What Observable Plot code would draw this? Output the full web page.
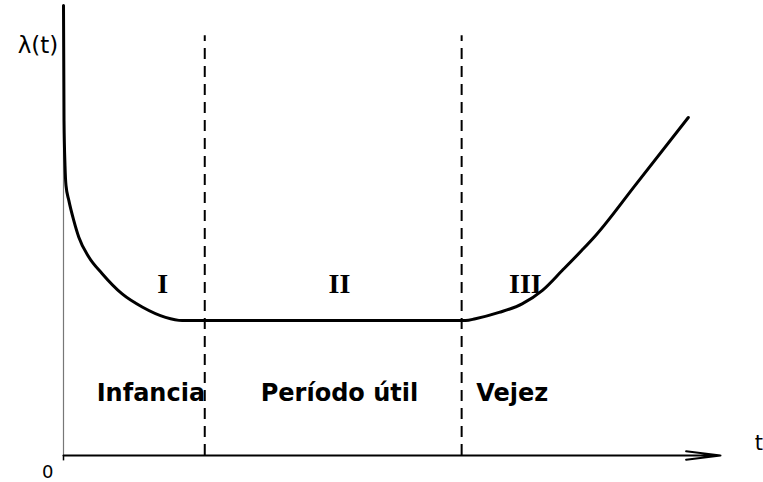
<!DOCTYPE html>
<html>
<head>
<meta charset="utf-8">
<script src="https://cdn.jsdelivr.net/npm/d3@7"></script>
<script src="https://cdn.jsdelivr.net/npm/@observablehq/plot@0.6"></script>
<style>
  html, body { margin: 0; padding: 0; background: #fff; }
  #chart svg { display: block; }
</style>
</head>
<body>
<div id="chart"></div>
<script>
// Bathtub curve λ(t) (arbitrary units)
const curveT = [0, 0.008, 0.023, 0.038, 0.081, 0.157, 0.233, 0.385, 0.589, 0.893, 1.198, 1.553, 1.807, 2.08, 6.12, 6.27, 6.63, 6.98, 7.29, 7.59, 7.89, 8.10, 8.71, 9.51];
const curveL = [10, 7.44, 6.44, 6.0, 5.67, 5.22, 4.85, 4.41, 4.04, 3.59, 3.30, 3.07, 3.0, 3.0, 3.0, 3.04, 3.18, 3.37, 3.67, 4.11, 4.56, 4.89, 6.02, 7.51];

// Phase boundaries (dashed lines)
const boundaryT = [2.15, 6.06];
const boundaryTop = 9.33;

// Roman numerals for each phase
const phaseNumerals = ["I", "II", "III"];
const phaseNumeralT = [1.51, 4.2, 7.03];
const phaseNumeralL = 3.82;

// Phase names
const phaseNames = ["Infancia", "Período útil", "Vejez"];
const phaseNameT = [1.33, 4.2, 6.83];
const phaseNameL = 1.38;

// Axis extent
const axisTMax = 10;
const axisLMax = 10;

const curve = curveT.map((t, i) => ({t, l: curveL[i]}));
const numerals = phaseNumerals.map((s, i) => ({s, t: phaseNumeralT[i], l: phaseNumeralL}));
const names = phaseNames.map((s, i) => ({s, t: phaseNameT[i], l: phaseNameL}));

const chart = Plot.plot({
  width: 763,
  height: 482,
  marginLeft: 63,
  marginRight: 43,
  marginTop: 5,
  marginBottom: 27,
  x: {domain: [0, axisTMax], axis: null},
  y: {domain: [0, axisLMax], axis: null},
  style: {background: "#fff", overflow: "visible"},
  marks: [
    // y axis (thin)
    Plot.ruleX([0], {y1: 0, y2: axisLMax, stroke: "#777", strokeWidth: 1.2}),
    // small tick at origin
    Plot.ruleX([0], {y1: 0, y2: -0.12, stroke: "#000", strokeWidth: 1.5}),
    // x axis with arrow
    Plot.arrow([{x1: 0, y1: 0, x2: axisTMax, y2: 0}], {
      x1: "x1", y1: "y1", x2: "x2", y2: "y2",
      stroke: "#000", strokeWidth: 2, headLength: 26, headAngle: 14
    }),
    // dashed phase boundaries
    Plot.ruleX(boundaryT, {y1: 0, y2: boundaryTop, stroke: "#000", strokeWidth: 2, strokeDasharray: "11,7"}),
    // curve
    Plot.line(curve, {x: "t", y: "l", stroke: "#000", strokeWidth: 3, curve: "monotone-x"}),
    // numerals
    Plot.text(numerals, {x: "t", y: "l", text: "s", fontFamily: "Liberation Serif", fontWeight: "bold", fontSize: 28, fill: "#000"}),
    // phase names
    Plot.text(names, {x: "t", y: "l", text: "s", fontFamily: "DejaVu Sans", fontWeight: "bold", fontSize: 24, fill: "#000"}),
    // axis labels
    Plot.text(["λ(t)"], {x: -0.08, y: 9.11, text: d => d, textAnchor: "end", fontFamily: "DejaVu Sans", fontSize: 23, fill: "#000"}),
    Plot.text(["t"], {x: 10.52, y: 0.27, text: d => d, textAnchor: "start", fontFamily: "DejaVu Sans", fontSize: 21, fill: "#000"}),
    Plot.text(["0"], {x: -0.24, y: -0.38, text: d => d, fontFamily: "DejaVu Sans", fontSize: 18, fill: "#000"})
  ]
});
document.getElementById("chart").appendChild(chart);
</script>
</body>
</html>
